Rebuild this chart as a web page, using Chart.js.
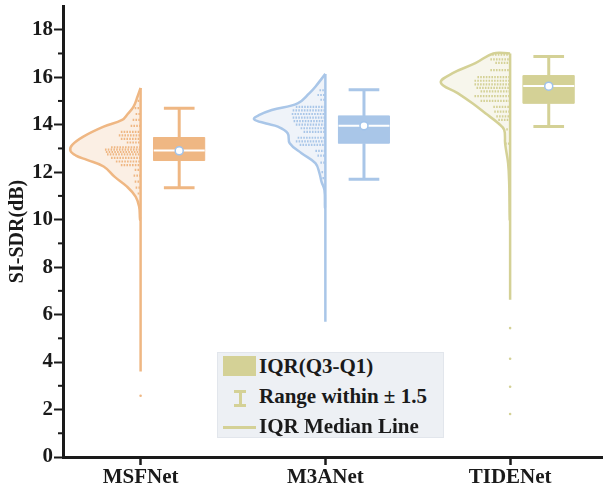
<!DOCTYPE html>
<html>
<head>
<meta charset="utf-8">
<script src="https://cdn.jsdelivr.net/npm/chart.js@4.4.0/dist/chart.umd.min.js"></script>
<style>
    html, body { margin: 0; padding: 0; background: #fff; }
    #wrap { position: relative; width: 608px; height: 491px; }
    #legend {
        position: absolute; left: 217px; top: 352px; width: 225px; height: 84px;
        background: #edf0f4; border: 1px solid #e2e6ec;
        font: bold 21px "Liberation Serif", "Times New Roman", serif; color: #1a1a1a;
    }
    .row { position: absolute; left: 0; height: 30px; width: 100%; }
    .row span { position: absolute; left: 41px; top: 1px; white-space: nowrap; }
    .swatch { position: absolute; left: 5px; top: 3px; width: 33px; height: 20px; background: #d4d196; }
    .range { position: absolute; left: 16px; top: 7px; width: 12px; height: 17px; }
    .range i { position: absolute; background: #d4d196; }
    .mline { position: absolute; left: 5px; top: 13px; width: 33px; height: 3px; background: #d4d196; }
</style>
</head>
<body>
<div id="wrap">
    <canvas id="chart" width="608" height="491"></canvas>
    <div id="legend">
        <div class="row" style="top:0"><div class="swatch"></div><span>IQR(Q3-Q1)</span></div>
        <div class="row" style="top:30px">
            <div class="range">
                <i style="left:0;top:0;width:12px;height:3px"></i>
                <i style="left:4.5px;top:0;width:3px;height:17px"></i>
                <i style="left:0;top:14px;width:12px;height:3px"></i>
            </div>
            <span>Range within ± 1.5</span>
        </div>
        <div class="row" style="top:60px"><div class="mline"></div><span>IQR Median Line</span></div>
    </div>
</div>
<script>
// Raincloud chart: half violin + jitter rows + box plot

const categories = ['MSFNet', 'M3ANet', 'TIDENet'];
const colors = ['#efb783', '#a9c6e8', '#d4d196'];
const fills = ['#fbefe4', '#eff3f9', '#f7f6ec'];

// violin outline: [value, half width]
const violinMSF = [[15.55, 0], [15.2, 0.016], [14.76, 0.038], [14.45, 0.07], [14.2, 0.10], [13.92, 0.20], [13.5, 0.31], [13.15, 0.37], [12.91, 0.38], [12.7, 0.35], [12.52, 0.29], [12.24, 0.20], [11.8, 0.14], [11.4, 0.075], [10.97, 0.027], [10.55, 0.008], [10.0, 0.003]];
const violinM3A = [[16.14, 0], [15.6, 0.054], [15.33, 0.086], [14.9, 0.15], [14.62, 0.29], [14.4, 0.36], [14.23, 0.386], [14.05, 0.32], [13.92, 0.257], [13.64, 0.204], [13.22, 0.193], [12.8, 0.129], [12.38, 0.054], [11.96, 0.032], [11.6, 0.021], [11.25, 0.005], [10.5, 0.002]];
const violinTIDE = [[17.0, 0.091], [16.59, 0.188], [16.17, 0.311], [15.77, 0.375], [15.33, 0.284], [14.9, 0.204], [14.48, 0.134], [14.06, 0.064], [13.78, 0.032], [13.2, 0.027], [12.38, 0.011], [11.5, 0.005], [10.0, 0.002]];

// jittered sample rows: [value, spread]
const rowsMSF = [[15.0, 0.016], [14.7, 0.032], [14.45, 0.027], [14.2, 0.043], [13.95, 0.054], [13.7, 0.107], [13.55, 0.118], [13.4, 0.107], [13.25, 0.075], [13.05, 0.16], [12.95, 0.193], [12.85, 0.188], [12.75, 0.182], [12.6, 0.16], [12.45, 0.134], [12.3, 0.107], [12.1, 0.032], [11.85, 0.038], [11.6, 0.032], [11.35, 0.027], [11.1, 0.016]];
const rowsM3A = [[15.45, 0.032], [15.25, 0.043], [15.05, 0.027], [14.75, 0.16], [14.6, 0.177], [14.45, 0.182], [14.3, 0.177], [14.15, 0.172], [14.0, 0.16], [13.85, 0.134], [13.7, 0.118], [13.45, 0.15], [13.3, 0.16], [13.15, 0.139], [12.9, 0.054], [12.7, 0.043], [12.4, 0.027], [12.0, 0.021], [11.75, 0.016]];
const rowsTIDE = [[16.95, 0.097], [16.75, 0.107], [16.6, 0.08], [16.3, 0.107], [16.0, 0.177], [15.85, 0.193], [15.7, 0.193], [15.55, 0.182], [15.4, 0.16], [15.2, 0.193], [15.0, 0.16], [14.75, 0.091], [14.55, 0.086], [14.35, 0.075], [14.2, 0.064], [13.8, 0.021], [13.2, 0.027], [12.4, 0.011]];

const rangeMin = [3.6, 5.7, 6.62];
const rangeMax = [15.55, 16.14, 17.0];
const outliers = [[2.58], [], [5.43, 4.14, 2.96, 1.81]];

const q1 = [12.49, 13.22, 14.9];
const q3 = [13.46, 14.37, 16.07];
const medians = [12.91, 13.96, 15.63];
const means = [12.9, 13.95, 15.62];
const whiskerLow = [11.34, 11.7, 13.92];
const whiskerHigh = [14.69, 15.47, 16.87];

const yTicks = [0, 2, 4, 6, 8, 10, 12, 14, 16, 18];

const violins = [violinMSF, violinM3A, violinTIDE];
const rows = [rowsMSF, rowsM3A, rowsTIDE];

// box placement, relative to category position
const BOX_L = 0.071, BOX_R = 0.347, BOX_C = 0.209, CAP = 0.083;
const FONT = '"Liberation Serif", "Times New Roman", serif';

function buildDatasets() {
    const sets = [];
    categories.forEach((name, i) => {
        const p = i + 1;
        const c = colors[i];
        const prof = violins[i];

        // violin half
        const vpts = [];
        if (prof[0][1] > 0) vpts.push({ x: p, y: prof[0][0] });
        prof.forEach(([v, w]) => vpts.push({ x: p - w, y: v }));
        vpts.push({ x: p, y: prof[prof.length - 1][0] });
        sets.push({
            type: 'line', data: vpts, order: 10, showLine: true, pointRadius: 0,
            borderColor: c, borderWidth: 2.5, backgroundColor: fills[i], fill: 'shape', tension: 0.4
        });

        // spine of the violin
        sets.push({
            type: 'line', data: [{ x: p, y: rangeMax[i] }, { x: p, y: rangeMin[i] }], order: 9,
            showLine: true, pointRadius: 0, borderColor: c, borderWidth: 2.5, fill: false
        });

        // jitter rows
        const rpts = [];
        rows[i].forEach(([v, w]) => {
            rpts.push({ x: p - w, y: v }, { x: p, y: v }, { x: p, y: null });
        });
        sets.push({
            type: 'line', data: rpts, order: 8, showLine: true, pointRadius: 0, spanGaps: false,
            borderColor: c, borderWidth: 2.2, borderDash: [1.6, 1.2], fill: false
        });

        // outliers
        sets.push({
            type: 'scatter', data: outliers[i].map(v => ({ x: p, y: v })), order: 8,
            pointRadius: 1.3, pointBackgroundColor: c, pointBorderWidth: 0
        });

        // whiskers
        const bc = p + BOX_C;
        sets.push({
            type: 'line', order: 7, showLine: true, pointRadius: 0, spanGaps: false,
            borderColor: c, borderWidth: 3, fill: false,
            data: [
                { x: bc - CAP, y: whiskerHigh[i] }, { x: bc + CAP, y: whiskerHigh[i] }, { x: bc, y: null },
                { x: bc, y: whiskerHigh[i] }, { x: bc, y: q3[i] }, { x: bc, y: null },
                { x: bc, y: q1[i] }, { x: bc, y: whiskerLow[i] }, { x: bc, y: null },
                { x: bc - CAP, y: whiskerLow[i] }, { x: bc + CAP, y: whiskerLow[i] }
            ]
        });

        // IQR box
        sets.push({
            type: 'line', order: 6, showLine: true, pointRadius: 0, tension: 0,
            borderColor: c, borderWidth: 1, backgroundColor: c, fill: 'shape',
            data: [
                { x: p + BOX_L, y: q1[i] }, { x: p + BOX_R, y: q1[i] },
                { x: p + BOX_R, y: q3[i] }, { x: p + BOX_L, y: q3[i] }, { x: p + BOX_L, y: q1[i] }
            ]
        });

        // median line
        sets.push({
            type: 'line', order: 5, showLine: true, pointRadius: 0, borderColor: '#ffffff', borderWidth: 2,
            fill: false, data: [{ x: p + BOX_L, y: medians[i] }, { x: p + BOX_R, y: medians[i] }]
        });

        // mean marker
        sets.push({
            type: 'scatter', order: 4, data: [{ x: bc, y: means[i] }],
            pointRadius: 4, pointBackgroundColor: '#ffffff', pointBorderColor: '#9fc2ea', pointBorderWidth: 1.5
        });
    });
    return sets;
}

// short minor ticks at odd values
const minorTicks = {
    id: 'minorTicks',
    afterDraw(chart) {
        const y = chart.scales.y;
        const ctx = chart.ctx;
        ctx.save();
        ctx.strokeStyle = '#1a1a1a';
        ctx.lineWidth = 2;
        for (let v = 1; v < 19; v += 2) {
            const py = y.getPixelForValue(v);
            ctx.beginPath();
            ctx.moveTo(y.right - 5, py);
            ctx.lineTo(y.right, py);
            ctx.stroke();
        }
        ctx.restore();
    }
};

new Chart(document.getElementById('chart'), {
    type: 'scatter',
    data: { datasets: buildDatasets() },
    plugins: [minorTicks],
    options: {
        responsive: false,
        animation: false,
        layout: { padding: { top: 6, right: 1, left: 0, bottom: 0 } },
        plugins: { legend: { display: false }, tooltip: { enabled: false } },
        scales: {
            x: {
                type: 'linear', min: 0.58, max: 3.5,
                afterBuildTicks: s => { s.ticks = [1, 2, 3].map(v => ({ value: v })); },
                afterFit: s => { s.height = 34; },
                border: { display: true, width: 3, color: '#1a1a1a' },
                grid: { drawOnChartArea: false, tickLength: 8, tickWidth: 2.5, color: '#1a1a1a' },
                ticks: {
                    padding: 0, color: '#1a1a1a', font: { family: FONT, size: 21, weight: 'bold' },
                    maxRotation: 0, callback: v => categories[v - 1]
                }
            },
            y: {
                type: 'linear', min: 0, max: 19,
                afterBuildTicks: s => { s.ticks = yTicks.map(v => ({ value: v })); },
                afterFit: s => { s.width = 63; s.paddingTop = 0; s.paddingBottom = 0; },
                border: { display: true, width: 3, color: '#1a1a1a' },
                grid: { drawOnChartArea: false, tickLength: 9, tickWidth: 2, color: '#1a1a1a' },
                ticks: { padding: 1, color: '#1a1a1a', font: { family: FONT, size: 21, weight: 'bold' } },
                title: {
                    display: true, text: 'SI-SDR(dB)', color: '#1a1a1a',
                    font: { family: FONT, size: 20, weight: 'bold' }, padding: { top: 6, bottom: 0 }
                }
            }
        }
    }
});
</script>
</body>
</html>
